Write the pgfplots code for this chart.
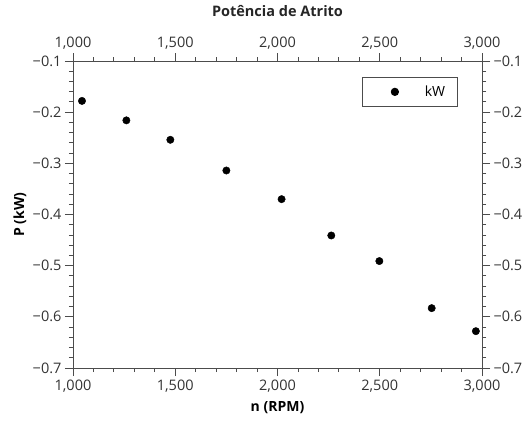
\documentclass[border=0pt]{standalone}
\usepackage{pgfplots}
\pgfplotsset{compat=1.18}
\usepackage{fontspec}
\setmainfont{Open Sans}
\begin{document}
\begin{tikzpicture}
\path[use as bounding box] (-73pt,-53pt) rectangle (451pt,368pt);
\pgfplotsset{myaxis/.style={
  at={(0pt,0pt)}, anchor=south west, scale only axis, width=409pt, height=307pt,
  xmin=1000, xmax=3000, ymin=-0.7, ymax=-0.1,
  xtick={1000,1500,2000,2500,3000},
  xticklabels={{1,000},{1,500},{2,000},{2,500},{3,000}},
  ytick={-0.7,-0.6,-0.5,-0.4,-0.3,-0.2,-0.1},
  yticklabels={−0.7,−0.6,−0.5,−0.4,−0.3,−0.2,−0.1},
  minor x tick num=4, minor y tick num=4,
  tick align=outside, major tick length=8pt, minor tick length=4pt,
  axis line style={black!70, line width=1pt},
  every tick/.style={black!70, line width=0.9pt},
  tick label style={font=\fontsize{14.5}{16}\selectfont, text=black!80},
}}
\begin{axis}[myaxis,
  xtick pos=both, ytick pos=both, xticklabel pos=lower, yticklabel pos=left,
  title={\bfseries Potência de Atrito},
  title style={at={(0.5,1)}, anchor=base, yshift=39pt, font=\fontsize{14.5}{16}\selectfont, text=black!85},
  xlabel={\bfseries n (RPM)},
  xlabel style={at={(axis description cs:0.5,-0.13)}, anchor=center, font=\fontsize{14}{16}\selectfont},
  ylabel={\bfseries P (kW)},
  ylabel style={at={(axis description cs:-0.13,0.5)}, anchor=center, rotate=0, font=\fontsize{14}{16}\selectfont},
  legend style={at={(0.942,0.948)}, anchor=north east, draw=black!70, line width=0.8pt,
    font=\fontsize{14}{16}\selectfont, inner sep=0pt, nodes={inner sep=0pt}},
  legend image code/.code={\path[draw=none,fill=none] (-32pt,-14.5pt) rectangle (30pt,14.5pt); \fill[black] (0pt,0pt) circle (3.7pt);},
]
\addplot[only marks, mark=*, mark size=3.7pt, black] coordinates {
(1044,-0.178) (1261,-0.216) (1476,-0.254) (1750,-0.314) (2020,-0.370)
(2263,-0.441) (2498,-0.491) (2754,-0.583) (2970,-0.628)
};
\addlegendentry{\makebox[33pt][l]{kW}}
\end{axis}
\begin{axis}[myaxis,
  xtick pos=upper, ytick pos=right, xticklabel pos=upper, yticklabel pos=right,
]
\end{axis}
\end{tikzpicture}
\end{document}
